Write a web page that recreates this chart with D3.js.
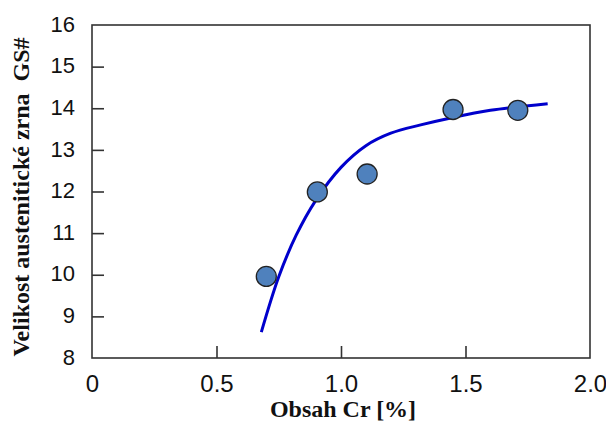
<!DOCTYPE html>
<html>
<head>
<meta charset="utf-8">
<script src="https://cdn.jsdelivr.net/npm/d3@7"></script>
<style>
  body { margin: 0; background: #fff; }
  svg { display: block; }
</style>
</head>
<body>
<svg id="chart" width="606" height="424"></svg>
<script>
// measured points
var crPoints = [0.70, 0.905, 1.105, 1.45, 1.71];
var gsPoints = [9.96, 11.99, 12.42, 13.97, 13.95];

// fitted curve
var crCurve = [0.68, 0.75, 0.82, 0.90, 1.00, 1.10, 1.20, 1.32, 1.45, 1.60, 1.83];
var gsCurve = [8.62, 9.95, 10.95, 11.8, 12.58, 13.1, 13.4, 13.6, 13.78, 13.95, 14.11];

var xTicks = [0, 0.5, 1.0, 1.5, 2.0];
var xTickLabels = ["0", "0.5", "1.0", "1.5", "2.0"];
var yTicks = [8, 9, 10, 11, 12, 13, 14, 15, 16];

function draw() {
  var svg = d3.select("#chart");
  var margin = {top: 25, right: 16, bottom: 66, left: 92};
  var w = 606 - margin.left - margin.right;
  var h = 424 - margin.top - margin.bottom;

  var g = svg.append("g")
    .attr("transform", "translate(" + margin.left + "," + margin.top + ")");

  var x = d3.scaleLinear().domain([0, 2.0]).range([0, w]);
  var y = d3.scaleLinear().domain([8, 16]).range([h, 0]);

  // frame
  g.append("rect")
    .attr("x", 0).attr("y", 0)
    .attr("width", w).attr("height", h)
    .attr("fill", "none")
    .attr("stroke", "#333")
    .attr("stroke-width", 1.6);

  // x axis: inner ticks, labels below
  var xAxis = g.append("g")
    .attr("transform", "translate(0," + h + ")")
    .call(d3.axisBottom(x)
      .tickValues(xTicks)
      .tickSize(-12)
      .tickPadding(17)
      .tickFormat(function(d, i) { return xTickLabels[i]; }));
  xAxis.select(".domain").remove();
  xAxis.selectAll(".tick line")
    .attr("stroke", "#333").attr("stroke-width", 1.6)
    .filter(function(d) { return d === 0 || d === 2.0; }).remove();
  xAxis.selectAll("text")
    .attr("font-family", "'Liberation Sans', Arial, sans-serif")
    .attr("font-size", 24)
    .attr("fill", "#111");

  // y axis
  var yAxis = g.append("g")
    .call(d3.axisLeft(y)
      .tickValues(yTicks)
      .tickSize(-12)
      .tickPadding(17)
      .tickFormat(d3.format("d")));
  yAxis.select(".domain").remove();
  yAxis.selectAll(".tick line")
    .attr("stroke", "#333").attr("stroke-width", 1.6)
    .filter(function(d) { return d === 8 || d === 16; }).remove();
  yAxis.selectAll("text")
    .attr("font-family", "'Liberation Sans', Arial, sans-serif")
    .attr("font-size", 22)
    .attr("fill", "#111")
    .attr("dy", "0.28em");

  // curve
  var curveData = crCurve.map(function(c, i) { return [c, gsCurve[i]]; });
  var line = d3.line()
    .x(function(d) { return x(d[0]); })
    .y(function(d) { return y(d[1]); })
    .curve(d3.curveCatmullRom.alpha(0.5));
  g.append("path")
    .datum(curveData)
    .attr("d", line)
    .attr("fill", "none")
    .attr("stroke", "#0000cc")
    .attr("stroke-width", 3);

  // points
  var pts = crPoints.map(function(c, i) { return [c, gsPoints[i]]; });
  g.selectAll("circle.pt").data(pts).enter()
    .append("circle")
    .attr("class", "pt")
    .attr("cx", function(d) { return x(d[0]); })
    .attr("cy", function(d) { return y(d[1]); })
    .attr("r", 10)
    .attr("fill", "#4f81bd")
    .attr("stroke", "#222")
    .attr("stroke-width", 1.3);

  // axis titles
  svg.append("text")
    .attr("x", margin.left + w / 2 + 2)
    .attr("y", 417)
    .attr("text-anchor", "middle")
    .attr("font-family", "'Liberation Serif', 'Times New Roman', serif")
    .attr("font-weight", "bold")
    .attr("font-size", 24)
    .attr("fill", "#111")
    .text("Obsah Cr [%]");

  svg.append("text")
    .attr("transform", "translate(29," + 197 + ") rotate(-90)")
    .attr("text-anchor", "middle")
    .attr("font-family", "'Liberation Serif', 'Times New Roman', serif")
    .attr("font-weight", "bold")
    .attr("font-size", 24)
    .attr("fill", "#111")
    .attr("xml:space", "preserve")
    .text("Velikost austenitické zrna  GS#");
}

draw();
</script>
</body>
</html>
